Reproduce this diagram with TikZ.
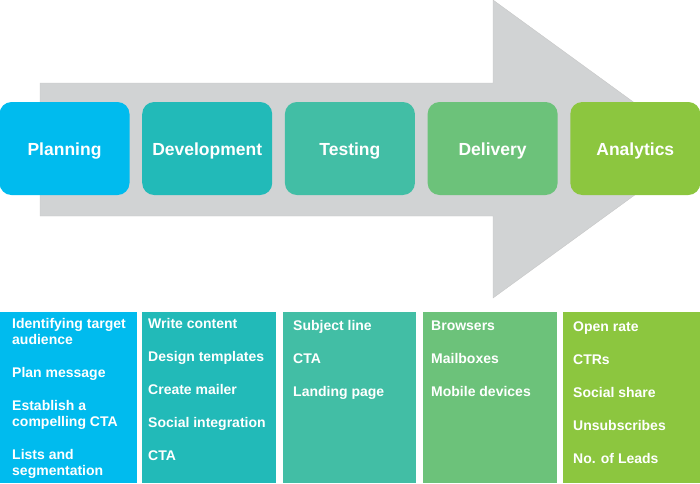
\documentclass[tikz,border=0pt]{standalone}
\usepackage{fontspec}
\setmainfont{Liberation Sans}
\usepackage{xcolor}

\definecolor{cPlan}{RGB}{0,187,238}
\definecolor{cDevel}{RGB}{34,186,184}
\definecolor{cTest}{RGB}{66,190,165}
\definecolor{cDeliv}{RGB}{108,194,122}
\definecolor{cAnalyt}{RGB}{140,198,63}
\definecolor{cArrow}{RGB}{209,211,212}

\tikzset{
  stage/.style={rounded corners=12pt, minimum width=130pt, minimum height=93pt,
    inner sep=0pt, text height=13pt, text depth=0pt, text=white,
    font=\fontsize{17.5}{20}\selectfont\bfseries},
  items/.style={anchor=north west, align=left, inner sep=0pt, text=white,
    font=\fontsize{14}{16}\selectfont\bfseries}
}

\begin{document}
\begin{tikzpicture}[x=1pt,y=-1pt]
\useasboundingbox (0,0) rectangle (700,483);

% big grey arrow behind the stages
\filldraw[fill=cArrow, draw=black!22, line width=0.4pt]
  (40,83) -- (493,83) -- (493,0) -- (698,149) -- (493,298) -- (493,216) -- (40,216) -- cycle;

\node[stage, fill=cPlan] (plan) at (64.5,148.5) {Planning};
\node[stage, fill=cDevel] (devel) at (207.2,148.5) {Development};
\node[stage, fill=cTest] (test) at (349.9,148.5) {Testing};
\node[stage, fill=cDeliv] (deliv) at (492.6,148.5) {Delivery};
\node[stage, fill=cAnalyt] (analyt) at (635.3,148.5) {Analytics};

% columns underneath
\fill[cPlan] (0,312) rectangle (137,483);
\fill[cDevel] (142,312) rectangle (276,483);
\fill[cTest] (283,312) rectangle (416,483);
\fill[cDeliv] (423,312) rectangle (557,483);
\fill[cAnalyt] (563,312) rectangle (700,483);

\node[items] (planlist) at (12,318) {Identifying target\\audience\\[17pt]Plan message\\[17pt]Establish a\\compelling CTA\\[17pt]Lists and\\segmentation};
\node[items] (devellist) at (148,318) {Write content\\[17pt]Design templates\\[17pt]Create mailer\\[17pt]Social integration\\[17pt]CTA};
\node[items] (testlist) at (293,320.5) {Subject line\\[17pt]CTA\\[17pt]Landing page};
\node[items] (delivlist) at (431,320.5) {Browsers\\[17pt]Mailboxes\\[17pt]Mobile devices};
\node[items] (analytlist) at (573,321.5) {Open rate\\[17pt]CTRs\\[17pt]Social share\\[17pt]Unsubscribes\\[17pt]No. of Leads};
\end{tikzpicture}
\end{document}
